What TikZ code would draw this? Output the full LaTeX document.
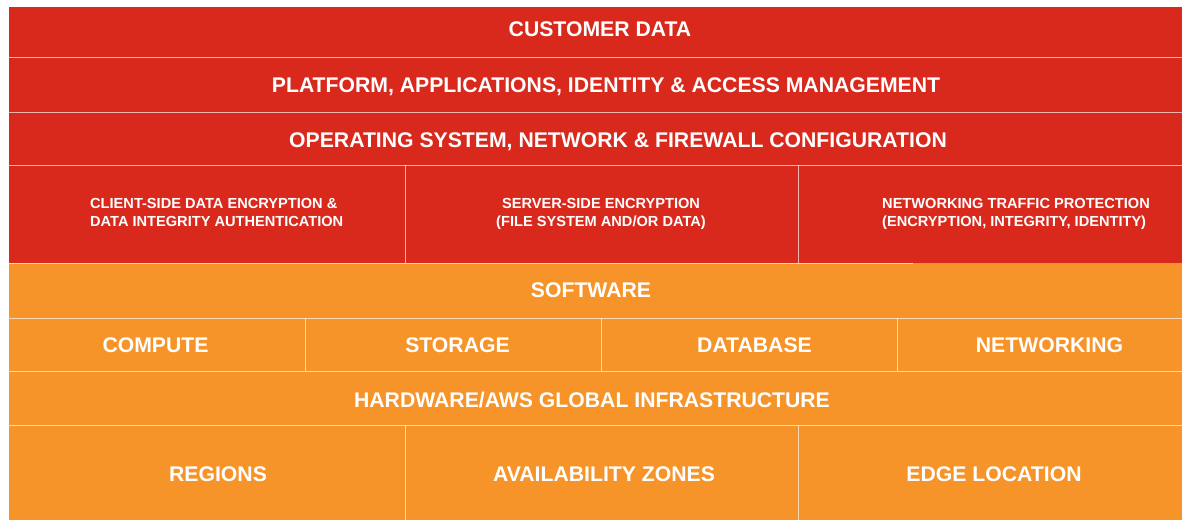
\documentclass[tikz,border=0pt]{standalone}
\usepackage{fontspec}
\setmainfont{Liberation Sans}
\definecolor{awsred}{RGB}{217,41,29}
\definecolor{awsorange}{RGB}{247,148,41}
\begin{document}
\begin{tikzpicture}[x=1pt,y=-1pt,
  sep/.style={draw=white,draw opacity=0.65,line width=1pt},
  big/.style={text=white,font=\fontsize{21.2}{24}\selectfont\bfseries,anchor=base,inner sep=0pt},
  small/.style={text=white,font=\fontsize{14.6}{17.5}\selectfont\bfseries,anchor=base,inner sep=0pt,align=left}]
\useasboundingbox (0,0) rectangle (1182,520);
% backgrounds
\fill[awsred] (9,7) rectangle (1182,263);
\fill[awsorange] (9,263) rectangle (1182,520);
% horizontal separators
\draw[sep] (9,57) -- (1182,57);
\draw[sep] (9,112) -- (1182,112);
\draw[sep] (9,165) -- (1182,165);
\draw[sep] (9,263) -- (913,263);
\draw[sep] (9,318) -- (1182,318);
\draw[sep] (9,371) -- (1182,371);
\draw[sep] (9,425) -- (1182,425);
% vertical separators
\draw[sep] (405,165) -- (405,263);
\draw[sep] (798,165) -- (798,263);
\draw[sep] (305.5,318) -- (305.5,371);
\draw[sep] (601,318) -- (601,371);
\draw[sep] (897,318) -- (897,371);
\draw[sep] (405,425) -- (405,520);
\draw[sep] (798,425) -- (798,520);
% labels
\node[big] (cust) at (600,36) {CUSTOMER DATA};
\node[big] (plat) at (606,92) {PLATFORM, APPLICATIONS, IDENTITY \& ACCESS MANAGEMENT};
\node[big] (os) at (618,147) {OPERATING SYSTEM, NETWORK \& FIREWALL CONFIGURATION};
\node[small,anchor=base west] (client) at (90,226) {CLIENT-SIDE DATA ENCRYPTION \&\\DATA INTEGRITY AUTHENTICATION};
\node[small,align=center] (server) at (601,226) {SERVER-SIDE ENCRYPTION\\(FILE SYSTEM AND/OR DATA)};
\node[small,anchor=base west] (net) at (882,226) {NETWORKING TRAFFIC PROTECTION\\(ENCRYPTION, INTEGRITY, IDENTITY)};
\node[big] (soft) at (591,297) {SOFTWARE};
\node[big] (comp) at (155.5,352) {COMPUTE};
\node[big] (stor) at (457.5,352) {STORAGE};
\node[big] (db) at (754.5,352) {DATABASE};
\node[big] (netw) at (1049.5,352) {NETWORKING};
\node[big] (hw) at (592,407) {HARDWARE/AWS GLOBAL INFRASTRUCTURE};
\node[big] (reg) at (218,481) {REGIONS};
\node[big] (az) at (604,481) {AVAILABILITY ZONES};
\node[big] (edge) at (994,481) {EDGE LOCATION};
\end{tikzpicture}
\end{document}
